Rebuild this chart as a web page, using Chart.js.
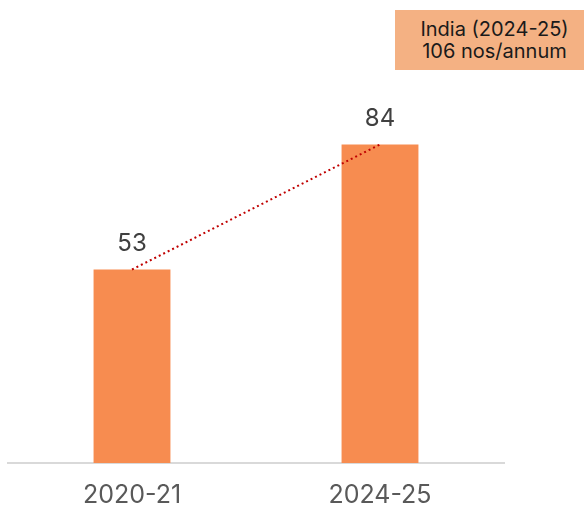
<!DOCTYPE html>
<html>
<head>
<meta charset="utf-8">
<script src="https://cdn.jsdelivr.net/npm/chart.js@4.4.1/dist/chart.umd.min.js"></script>
<style>
  html, body { margin: 0; padding: 0; background: #fff; overflow: hidden; }
  #wrap { position: relative; width: 584px; height: 506px; }
  #nota {
    position: absolute; left: 395px; top: 10px; width: 189px; height: 60px;
    background: #F4B183; color: #1a1a1a;
    font-family: Inter, "Open Sans", sans-serif; font-size: 20px; line-height: 22px;
    text-align: center; box-sizing: border-box; padding-top: 8px; padding-left: 10px;
  }
</style>
</head>
<body>
<div id="wrap">
  <canvas id="grafica" width="584" height="506"></canvas>
  <div id="nota">India (2024-25)<br>106 nos/annum</div>
</div>
<script>
const periodos = ['2020-21', '2024-25'];
const valores = [53, 84];

const etiquetasValor = {
  id: 'etiquetasValor',
  afterDatasetsDraw(chart) {
    const { ctx } = chart;
    const barras = chart.getDatasetMeta(1).data;
    ctx.save();
    ctx.font = '24px Inter, "Open Sans", sans-serif';
    ctx.fillStyle = '#404040';
    ctx.textAlign = 'center';
    ctx.textBaseline = 'middle';
    barras.forEach((b, i) => {
      ctx.fillText(valores[i], b.x, b.y - 26);
    });
    ctx.restore();
  }
};

const ctx = document.getElementById('grafica').getContext('2d');
new Chart(ctx, {
  type: 'bar',
  data: {
    labels: periodos,
    datasets: [
      {
        type: 'line',
        data: valores,
        borderColor: '#C00000',
        borderWidth: 2,
        borderDash: [2, 3],
        pointRadius: 0,
        fill: false,
        order: 0
      },
      {
        data: valores,
        backgroundColor: '#F78C50',
        categoryPercentage: 1,
        barPercentage: 0.31,
        order: 1
      }
    ]
  },
  options: {
    responsive: false,
    animation: false,
    layout: { padding: { top: 80, right: 80, left: 8, bottom: -14 } },
    plugins: { legend: { display: false }, tooltip: { enabled: false } },
    scales: {
      x: {
        grid: { display: false },
        border: { color: '#D9D9D9', width: 2 },
        ticks: {
          color: '#595959',
          padding: 12,
          font: { size: 25, family: 'Inter, "Open Sans", sans-serif', lineHeight: 1 }
        }
      },
      y: { display: false, min: 5, max: 100 }
    }
  },
  plugins: [etiquetasValor]
});
</script>
</body>
</html>
